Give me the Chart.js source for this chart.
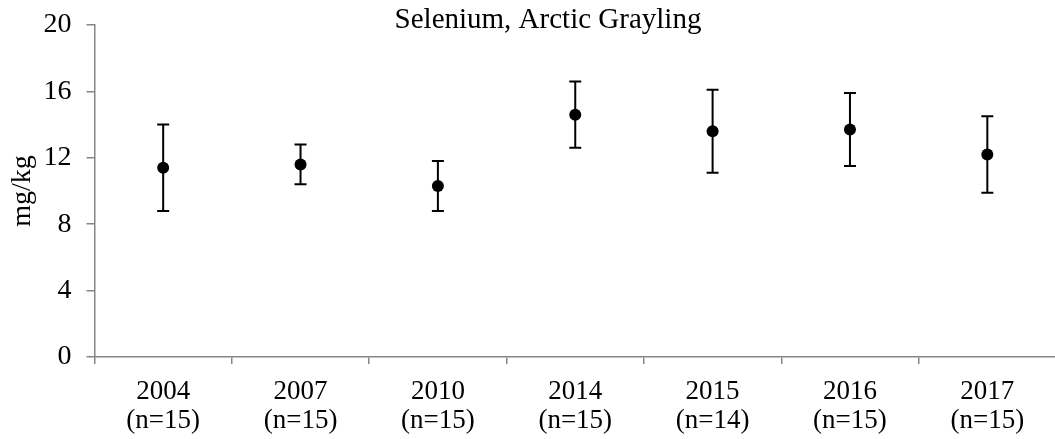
<!DOCTYPE html>
<html>
<head>
<meta charset="utf-8">
<script src="https://cdn.jsdelivr.net/npm/chart.js@4/dist/chart.umd.min.js"></script>
<style>
  html, body { margin: 0; padding: 0; background: #fff; overflow: hidden; }
  #wrap { width: 1062px; height: 439px; position: relative; }
</style>
</head>
<body>
<div id="wrap"><canvas id="chartSe"></canvas></div>
<script>
// values
const years = ['2004', '2007', '2010', '2014', '2015', '2016', '2017'];
const sampleSizes = [15, 15, 15, 15, 14, 15, 15];
const means = [11.4, 11.6, 10.3, 14.6, 13.6, 13.7, 12.2];
const lowerBars = [8.8, 10.4, 8.8, 12.6, 11.1, 11.5, 9.9];
const upperBars = [14.0, 12.8, 11.8, 16.6, 16.1, 15.9, 14.5];
const yTicks = [0, 4, 8, 12, 16, 20];

const FONT = '"Liberation Serif", "Times New Roman", serif';
const AXIS_GREY = '#868686';

var labels = [];
for (var i = 0; i < years.length; i++) {
    labels.push([years[i], '(n=' + sampleSizes[i] + ')']);
}

// whiskers drawn through the chart's own scales
var errorBars = {
    id: 'errorBars',
    beforeDatasetsDraw: function (chart) {
        let ctx = chart.ctx;
        let y = chart.scales.y;
        let meta = chart.getDatasetMeta(0);
        ctx.save();
        ctx.strokeStyle = '#000';
        ctx.lineWidth = 2;
        meta.data.forEach(function (pt, i) {
            let top = y.getPixelForValue(upperBars[i]);
            let bot = y.getPixelForValue(lowerBars[i]);
            ctx.beginPath();
            ctx.moveTo(pt.x, top);
            ctx.lineTo(pt.x, bot);
            ctx.moveTo(pt.x - 6, top);
            ctx.lineTo(pt.x + 6, top);
            ctx.moveTo(pt.x - 6, bot);
            ctx.lineTo(pt.x + 6, bot);
            ctx.stroke();
        });
        ctx.restore();
    }
};

var titleText = {
    id: 'titleText',
    afterDraw: function (chart) {
        let ctx = chart.ctx;
        ctx.save();
        ctx.fillStyle = '#000';
        ctx.font = '29px ' + FONT;
        ctx.textAlign = 'center';
        ctx.textBaseline = 'alphabetic';
        ctx.fillText('Selenium, Arctic Grayling', 548, 28);
        ctx.restore();
    }
};

var ctx1 = document.getElementById('chartSe');
var chart = new Chart(ctx1, {
    type: 'line',
    data: {
        labels: labels,
        datasets: [{
            data: means,
            showLine: false,
            pointRadius: 6,
            pointHoverRadius: 6,
            pointBackgroundColor: '#000',
            pointBorderColor: '#000',
            pointBorderWidth: 0
        }]
    },
    options: {
        responsive: true,
        maintainAspectRatio: false,
        animation: false,
        layout: {
            padding: { top: 25, left: 0, right: 0, bottom: 0 }
        },
        plugins: {
            legend: { display: false },
            tooltip: { enabled: false }
        },
        scales: {
            x: {
                type: 'category',
                offset: true,
                grid: {
                    offset: true,
                    drawOnChartArea: false,
                    tickLength: 7,
                    tickColor: AXIS_GREY,
                    lineWidth: 1.5
                },
                border: { color: AXIS_GREY, width: 1.5 },
                ticks: {
                    color: '#000',
                    font: { family: FONT, size: 27, lineHeight: 1.05 },
                    padding: 14,
                    maxRotation: 0,
                    autoSkip: false
                },
                afterFit: function (scale) {
                    scale.height = 82;
                    scale.paddingLeft = 0;
                    scale.paddingRight = 0;
                }
            },
            y: {
                min: 0,
                max: 20,
                afterBuildTicks: function (scale) {
                    scale.ticks = yTicks.map(function (v) { return { value: v }; });
                },
                grid: {
                    drawOnChartArea: false,
                    tickLength: 8,
                    tickColor: AXIS_GREY,
                    lineWidth: 1.5
                },
                border: { color: AXIS_GREY, width: 1.5 },
                ticks: {
                    color: '#000',
                    font: { family: FONT, size: 28 },
                    padding: 15
                },
                title: {
                    display: true,
                    text: 'mg/kg',
                    color: '#000',
                    font: { family: FONT, size: 28 },
                    padding: { top: 6, bottom: 0 }
                },
                afterFit: function (scale) {
                    scale.width = 94.5;
                    scale.paddingTop = 0;
                    scale.paddingBottom = 0;
                }
            }
        }
    },
    plugins: [errorBars, titleText]
});
</script>
</body>
</html>
